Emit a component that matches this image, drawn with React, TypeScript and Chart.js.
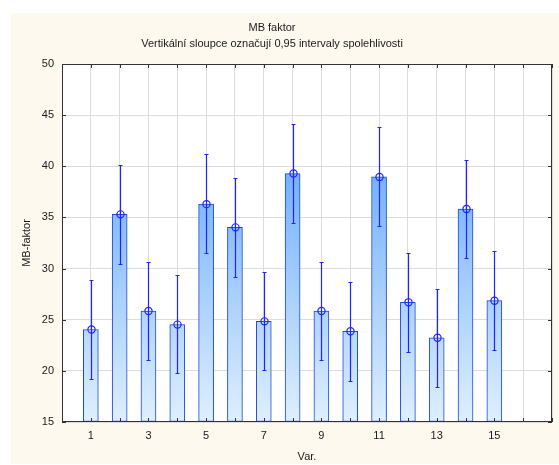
import React, { useEffect, useRef } from "react";
import { Chart, registerables } from "chart.js";

Chart.register(...registerables);

const categories = [1, 2, 3, 4, 5, 6, 7, 8, 9, 10, 11, 12, 13, 14, 15];
const means = [24.04, 35.3, 25.85, 24.52, 36.3, 34.03, 24.84, 39.29, 25.85, 23.87, 38.96, 26.7, 23.23, 35.82, 26.86];
const upper = [28.87, 40.17, 30.69, 29.36, 41.17, 38.84, 29.68, 44.12, 30.69, 28.68, 43.83, 31.5, 28.03, 40.65, 31.7];
const lower = [19.2, 30.49, 21.05, 19.75, 31.5, 29.17, 20.04, 34.48, 21.05, 19.04, 34.13, 21.86, 18.43, 31.02, 22.02];
const xTickLabels = ["1", "3", "5", "7", "9", "11", "13", "15"];
const yTickValues = [15, 20, 25, 30, 35, 40, 45, 50];

const titleText = "MB faktor";
const subtitleText = "Vertikální sloupce označují 0,95 intervaly spolehlivosti";
const yTitleText = "MB-faktor";
const xTitleText = "Var.";

const FONT = '"Liberation Sans", Arial, sans-serif';
const TEXT = "#1a1a1a";

const decor = {
  id: "decor",
  beforeDraw(chart: any) {
    const { ctx, chartArea: a } = chart;
    ctx.save();
    ctx.fillStyle = "#FDF9EF";
    ctx.fillRect(11, 13, chart.width - 11, 451);
    ctx.fillStyle = "#ffffff";
    ctx.fillRect(a.left, a.top, a.right - a.left, a.bottom - a.top);
    ctx.restore();
  },
  afterDatasetsDraw(chart: any) {
    const { ctx } = chart;
    const xs = chart.scales.x;
    const ys = chart.scales.y;
    ctx.save();
    ctx.strokeStyle = "#2222ff";
    ctx.lineWidth = 1.2;
    categories.forEach((c, i) => {
      const px = Math.round(xs.getPixelForValue(c)) + 0.5;
      const pt = Math.round(ys.getPixelForValue(upper[i])) + 0.5;
      const pb = Math.round(ys.getPixelForValue(lower[i])) + 0.5;
      const pm = ys.getPixelForValue(means[i]);
      ctx.beginPath();
      ctx.moveTo(px, pt);
      ctx.lineTo(px, pb);
      ctx.moveTo(px - 2, pt);
      ctx.lineTo(px + 2, pt);
      ctx.moveTo(px - 2, pb);
      ctx.lineTo(px + 2, pb);
      ctx.stroke();
      ctx.beginPath();
      ctx.arc(px, pm, 3.6, 0, Math.PI * 2);
      ctx.stroke();
    });
    ctx.restore();
  },
  afterDraw(chart: any) {
    const { ctx, chartArea: a } = chart;
    const xs = chart.scales.x;
    const ys = chart.scales.y;
    ctx.save();
    ctx.strokeStyle = "#333333";
    ctx.lineWidth = 1;
    ctx.strokeRect(a.left + 0.5, a.top + 0.5, a.right - a.left - 1, a.bottom - a.top - 1);
    ctx.beginPath();
    xs.ticks.forEach((t: any) => {
      const px = Math.round(xs.getPixelForValue(t.value)) + 0.5;
      ctx.moveTo(px, a.top);
      ctx.lineTo(px, a.top + 4);
      ctx.moveTo(px, a.bottom);
      ctx.lineTo(px, a.bottom - 4);
    });
    ys.ticks.forEach((t: any) => {
      const py = Math.round(ys.getPixelForValue(t.value)) + 0.5;
      ctx.moveTo(a.left, py);
      ctx.lineTo(a.left + 4, py);
      ctx.moveTo(a.right, py);
      ctx.lineTo(a.right - 4, py);
    });
    ctx.stroke();

    ctx.fillStyle = TEXT;
    ctx.font = `11px ${FONT}`;
    ctx.textAlign = "center";
    ctx.textBaseline = "middle";
    ctx.fillText(titleText, 272, 28);
    ctx.fillText(subtitleText, 272, 44);
    ctx.fillText(xTitleText, (a.left + a.right) / 2, 457);
    ctx.translate(27, (a.top + a.bottom) / 2);
    ctx.rotate(-Math.PI / 2);
    ctx.fillText(yTitleText, 0, 0);
    ctx.restore();
  },
};

export default function App() {
  const ref = useRef<HTMLCanvasElement>(null);
  useEffect(() => {
    if (!ref.current) return;
    const chart = new Chart(ref.current, {
      type: "bar",
      data: {
        datasets: [
          {
            data: categories.map((c, i) => ({ x: c, y: means[i] })),
            base: 15,
            barThickness: 15,
            borderWidth: 1,
            borderColor: "#1a4acc",
            borderSkipped: false,
            backgroundColor: (ctx: any) => {
              const chart = ctx.chart;
              const area = chart.chartArea;
              if (!area) return "#7fb8ff";
              const g = chart.ctx.createLinearGradient(0, area.top, 0, area.bottom);
              g.addColorStop(0, "rgb(70,150,255)");
              g.addColorStop(1, "rgb(222,239,255)");
              return g;
            },
          } as any,
        ],
      },
      options: {
        responsive: false,
        maintainAspectRatio: false,
        animation: false,
        devicePixelRatio: 1,
        layout: { padding: { left: 0, top: 64, right: 1, bottom: 0 } },
        plugins: { legend: { display: false }, title: { display: false }, tooltip: { enabled: false } },
        scales: {
          x: {
            type: "linear",
            min: 0,
            max: 17,
            offset: false,
            afterFit: (s: any) => {
              s.height = 43;
            },
            grid: { color: "#dcdcdc", drawTicks: false, offset: false },
            border: { display: false },
            ticks: {
              stepSize: 1,
              autoSkip: false,
              maxRotation: 0,
              padding: 7,
              color: TEXT,
              font: { family: FONT, size: 11 },
              callback: (v: any) => (xTickLabels.includes(String(v)) ? String(v) : ""),
            },
          },
          y: {
            type: "linear",
            min: yTickValues[0],
            max: yTickValues[yTickValues.length - 1],
            afterFit: (s: any) => {
              s.width = 62;
            },
            grid: { color: "#dcdcdc", drawTicks: false },
            border: { display: false },
            ticks: {
              stepSize: 5,
              padding: 8,
              color: TEXT,
              font: { family: FONT, size: 11 },
            },
          },
        },
      } as any,
      plugins: [decor],
    });
    return () => chart.destroy();
  }, []);
  return (
    <div style={{ position: "absolute", left: 0, top: 0, width: 559, height: 465 }}>
      <canvas ref={ref} width={559} height={465} style={{ display: "block" }} />
    </div>
  );
}
